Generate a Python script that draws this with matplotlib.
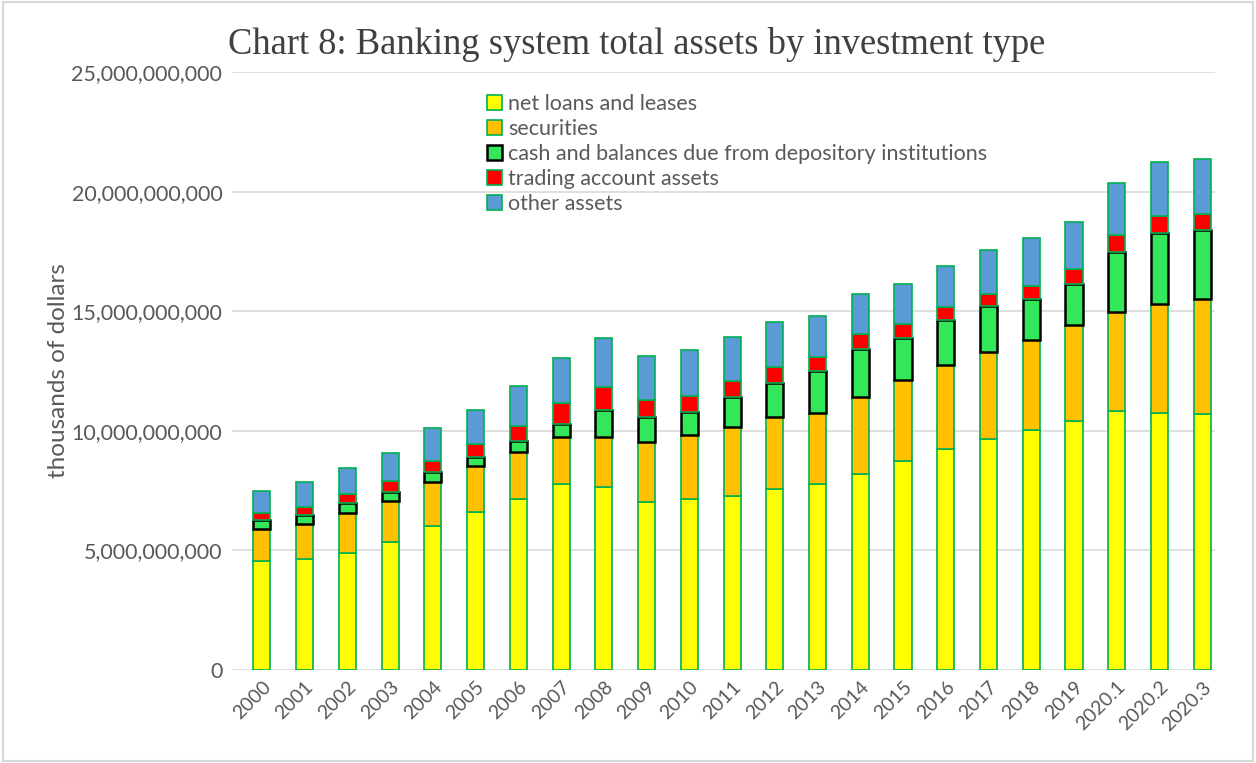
import matplotlib.pyplot as plt
import numpy as np
from matplotlib.patches import Rectangle
from matplotlib.ticker import FuncFormatter

periods = ["2000", "2001", "2002", "2003", "2004", "2005", "2006", "2007", "2008",
           "2009", "2010", "2011", "2012", "2013", "2014", "2015", "2016", "2017",
           "2018", "2019", "2020.1", "2020.2", "2020.3"]

# billions of (thousands of dollars)
loans = [4.56, 4.65, 4.90, 5.34, 6.02, 6.62, 7.13, 7.76, 7.66, 7.04, 7.13, 7.29,
         7.55, 7.76, 8.18, 8.75, 9.22, 9.64, 10.05, 10.42, 10.81, 10.75, 10.71]
securities = [1.32, 1.45, 1.68, 1.74, 1.85, 1.92, 1.98, 2.00, 2.10, 2.49, 2.68, 2.86,
              3.01, 3.00, 3.25, 3.37, 3.54, 3.66, 3.73, 3.99, 4.17, 4.57, 4.78]
cash = [0.41, 0.40, 0.39, 0.38, 0.39, 0.38, 0.48, 0.51, 1.11, 1.06, 0.96, 1.26,
        1.42, 1.74, 1.97, 1.78, 1.86, 1.92, 1.73, 1.71, 2.49, 2.95, 2.90]
trading = [0.28, 0.30, 0.38, 0.44, 0.49, 0.53, 0.61, 0.88, 0.95, 0.70, 0.70, 0.69,
           0.70, 0.60, 0.65, 0.56, 0.54, 0.51, 0.54, 0.63, 0.70, 0.71, 0.69]
other = [0.91, 1.07, 1.09, 1.18, 1.37, 1.42, 1.67, 1.89, 2.06, 1.83, 1.91, 1.84,
         1.85, 1.71, 1.65, 1.66, 1.72, 1.81, 2.00, 1.98, 2.20, 2.26, 2.28]

series = [
    ("net loans and leases", loans, "#FFFF00", "#00B050", 1.2),
    ("securities", securities, "#FFC000", "#00B050", 1.2),
    ("cash and balances due from depository institutions", cash, "#33E65A", "black", 1.8),
    ("trading account assets", trading, "#FF0000", "#00B050", 1.2),
    ("other assets", other, "#5B9BD5", "#00B050", 1.2),
]

fig = plt.figure(figsize=(12.56, 7.63), dpi=100)
ax = fig.add_axes([232 / 1256, 1 - 670 / 763, 983 / 1256, 598 / 763])

x = np.arange(len(periods))
bottom = np.zeros(len(periods))
handles = []
for name, vals, color, edge, lw in series:
    v = np.array(vals) * 1e9
    b = ax.bar(x, v, 0.4, bottom=bottom, color=color, edgecolor=edge,
               linewidth=lw, label=name, zorder=3)
    handles.append(b)
    bottom += v

ax.set_xlim(-0.7, len(periods) - 0.7)
ax.set_ylim(0, 25e9)
ax.set_yticks(np.arange(0, 25e9 + 1, 5e9))
ax.yaxis.set_major_formatter(FuncFormatter(lambda v, p: f"{v:,.0f}"))
ax.grid(axis="y", color="#D9D9D9", linewidth=1.2, zorder=0)
for s in ["top", "right", "left", "bottom"]:
    ax.spines[s].set_visible(False)
ax.tick_params(axis="y", length=0, colors="#595959", labelsize=15.5, pad=7)
ax.tick_params(axis="x", length=0, colors="#595959", labelsize=14, pad=6)
ax.set_xticks(x)
ax.set_xticklabels(periods, rotation=45, ha="right", rotation_mode="anchor",
                   family="Lato")
for t in ax.get_yticklabels():
    t.set_family("Lato")

ax.set_ylabel("thousands of dollars", fontsize=17.5, color="#595959",
              family="Lato", labelpad=2)

fig.text(228 / 1256, 1 - 44 / 763, "Chart 8: Banking system total assets by investment type",
         family="Liberation Serif", fontsize=26.3, color="#404040", va="center")

ax.legend(handles=handles, loc="upper left", bbox_to_anchor=(478 / 1256, 1 - 85 / 763),
          bbox_transform=fig.transFigure, frameon=False,
          handlelength=0.7, handleheight=0.7, handletextpad=0.3,
          labelspacing=0.24, borderaxespad=0, prop={"family": "Lato", "size": 15.5},
          labelcolor="#595959")

fig.patches.append(Rectangle((0.002, 0.002), 0.996, 0.996, transform=fig.transFigure,
                             fill=False, edgecolor="#D9D9D9", linewidth=1.5))

fig.savefig("out.png", dpi=100)
